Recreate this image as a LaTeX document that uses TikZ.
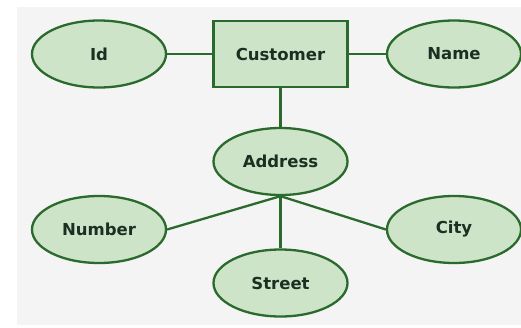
\documentclass[tikz,border=0pt]{standalone}
\usepackage{fontspec}
\setmainfont{DejaVu Sans}
\usetikzlibrary{shapes.geometric}
\definecolor{bg}{RGB}{244,244,244}
\definecolor{fillg}{RGB}{206,228,201}
\definecolor{strokeg}{RGB}{42,106,44}
\definecolor{txt}{RGB}{28,48,34}
\tikzset{
  attr/.style={ellipse, draw=strokeg, fill=fillg, line width=2.3pt, minimum width=134pt, minimum height=67pt, inner sep=0pt, font=\fontsize{16.5}{20}\selectfont\bfseries, text=txt},
  entity/.style={rectangle, draw=strokeg, fill=fillg, line width=2.3pt, minimum width=134pt, minimum height=66pt, inner sep=0pt, font=\fontsize{16.5}{20}\selectfont\bfseries, text=txt},
  link/.style={draw=strokeg, line width=2.3pt}
}
\begin{document}
\begin{tikzpicture}[x=1pt,y=-1pt]
\useasboundingbox (0,0) rectangle (521,327);
\fill[white] (0,0) rectangle (521,327);
\fill[bg] (17,7) rectangle (521,325);
\node[attr] (id) at (99,54) {Id};
\node[entity] (cust) at (280.5,54) {Customer};
\node[attr] (name) at (454,54) {Name};
\node[attr] (addr) at (280.5,161.5) {Address};
\node[attr] (num) at (99,229.5) {Number};
\node[attr] (city) at (454,229.5) {City};
\node[attr] (street) at (280.5,283) {Street};
\draw[link] (id.east) -- (cust.west);
\draw[link] (cust.east) -- (name.west);
\draw[link] (cust.south) -- (addr.north);
\draw[link] (addr.south) -- (num.east);
\draw[link] (addr.south) -- (city.west);
\draw[link] (addr.south) -- (street.north);
\end{tikzpicture}
\end{document}
